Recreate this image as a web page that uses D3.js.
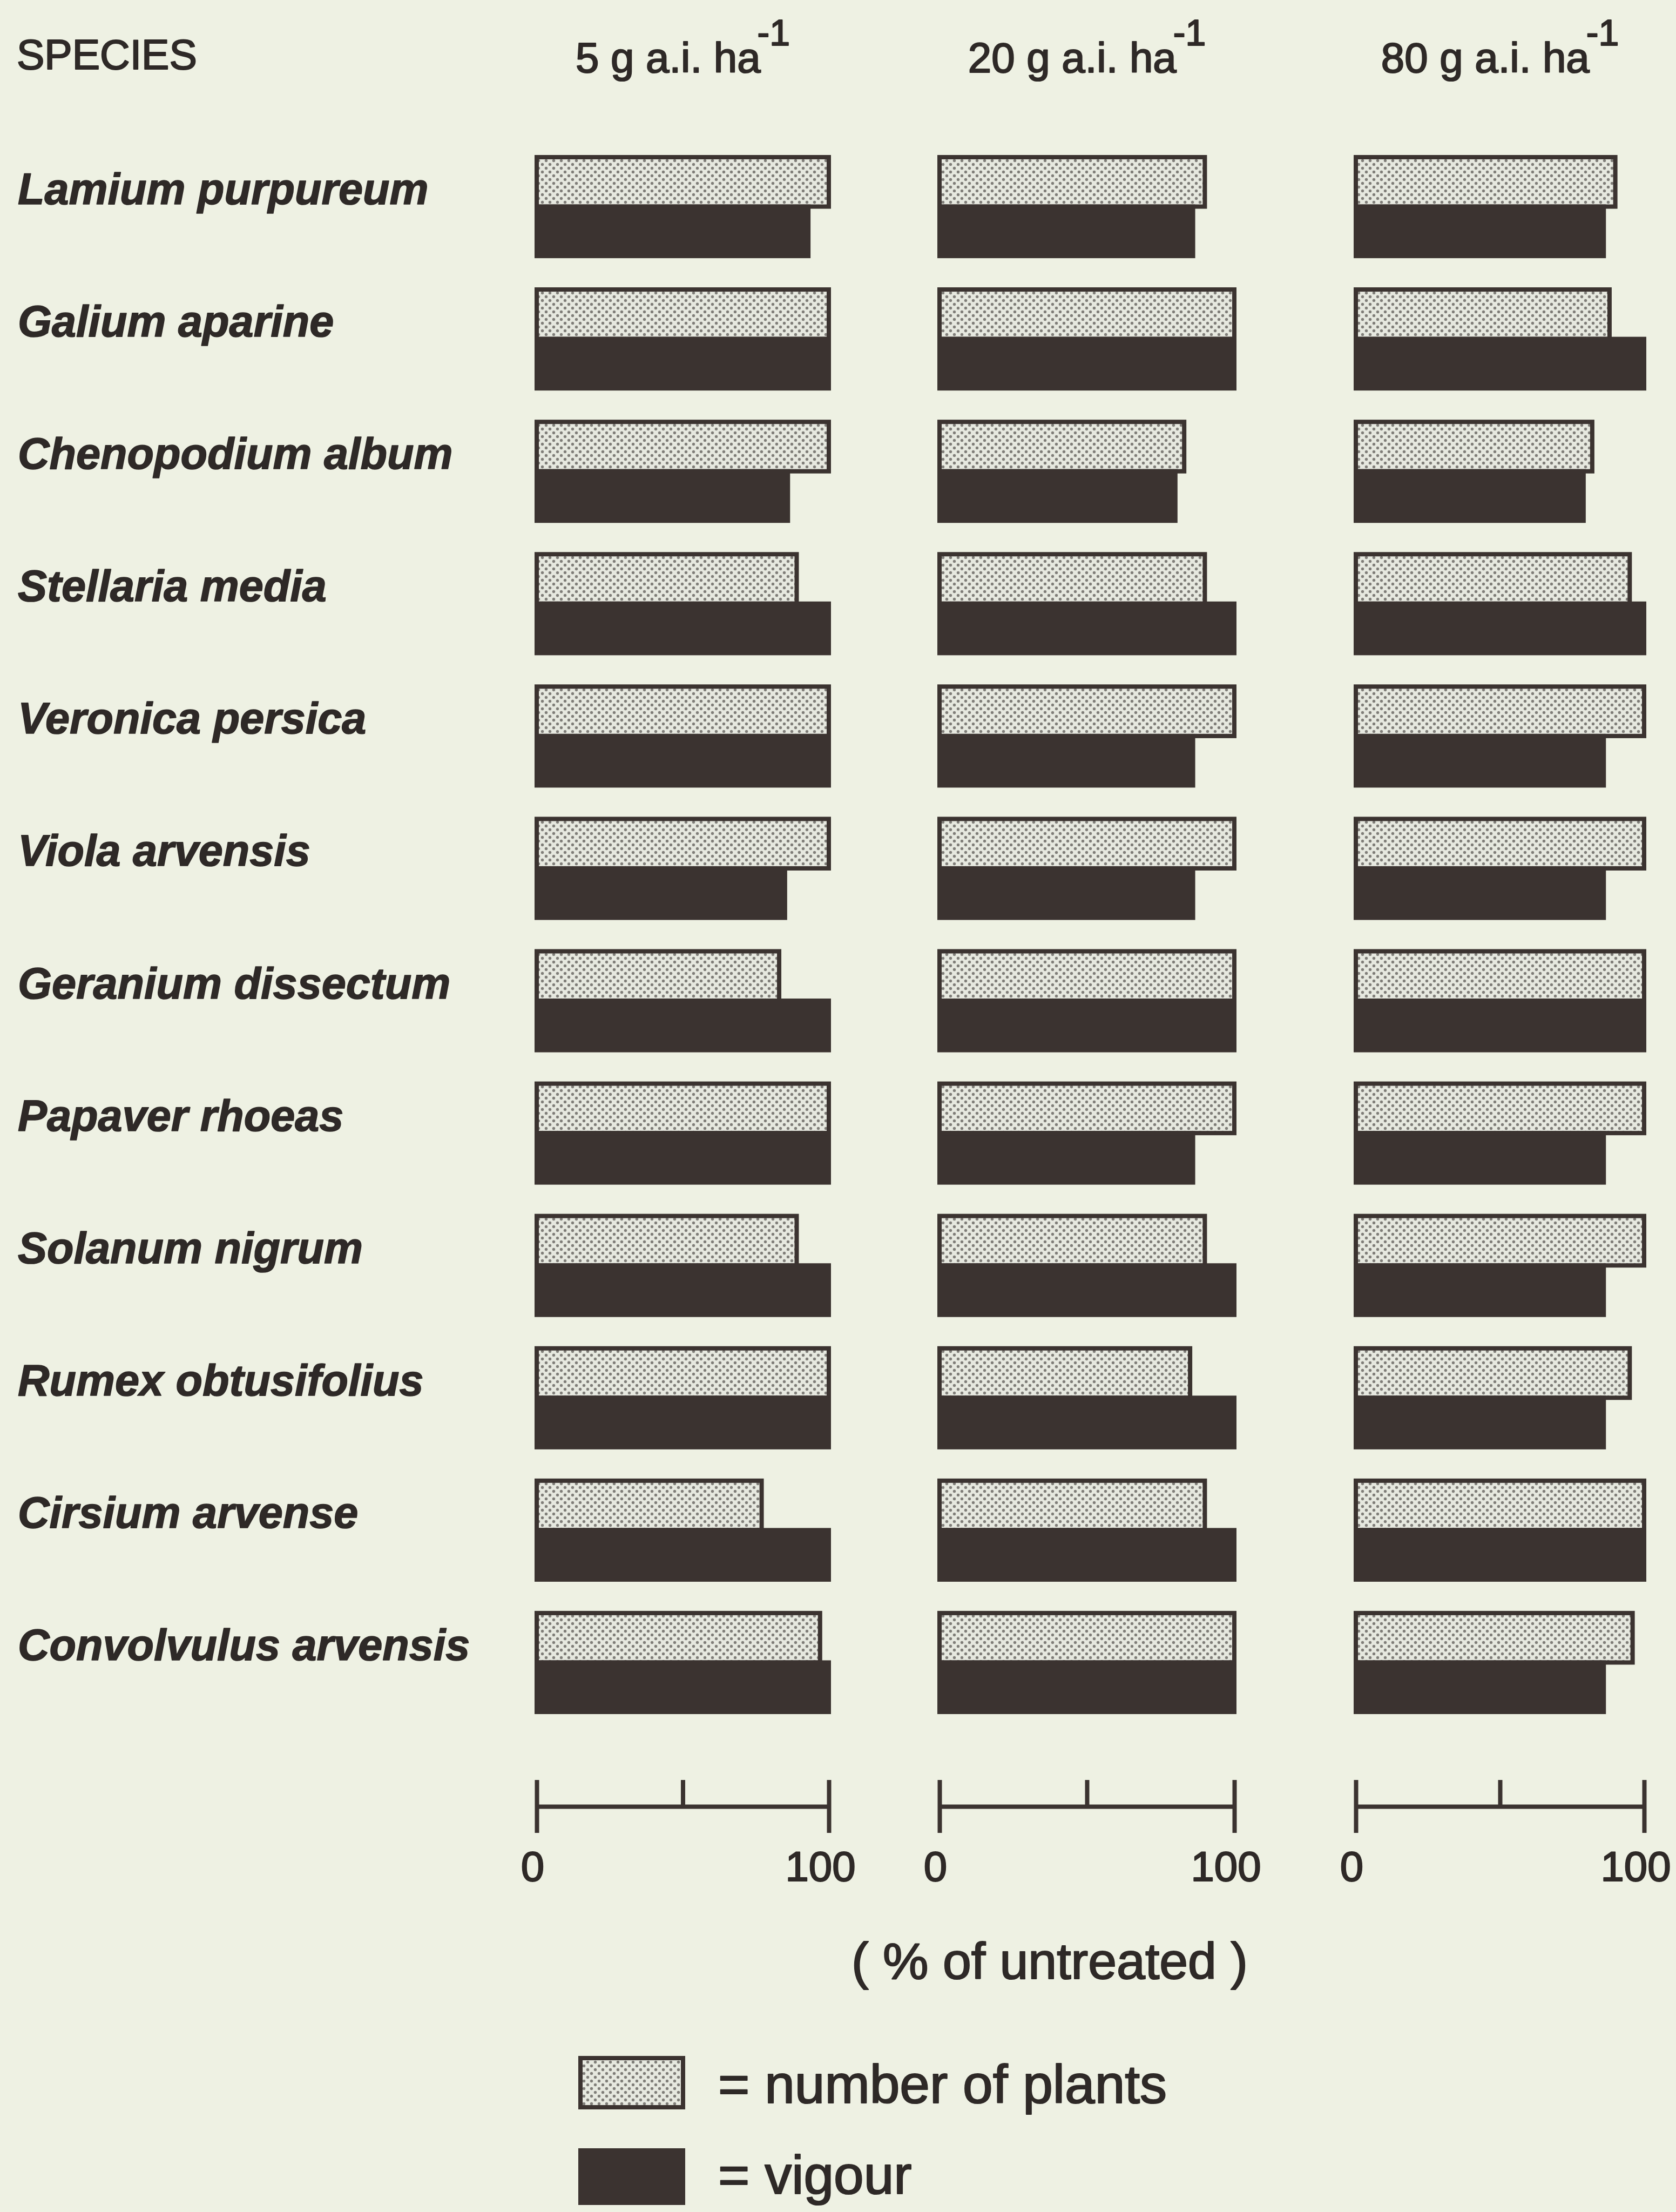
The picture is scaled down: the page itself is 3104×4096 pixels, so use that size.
<!DOCTYPE html>
<html>
<head>
<meta charset="utf-8">
<script src="https://cdn.jsdelivr.net/npm/d3@7"></script>
<style>
  html, body { margin: 0; padding: 0; background: #eef1e3; }
  svg { display: block; }
</style>
</head>
<body>
<script>
// ---------------- DATA ----------------
const species = [
  "Lamium purpureum", "Galium aparine", "Chenopodium album", "Stellaria media",
  "Veronica persica", "Viola arvensis", "Geranium dissectum", "Papaver rhoeas",
  "Solanum nigrum", "Rumex obtusifolius", "Cirsium arvense", "Convolvulus arvensis"
];
const doseLabels = ["5 g a.i. ha", "20 g a.i. ha", "80 g a.i. ha"];
const doseUnitSup = "-1";
const seriesKeys = ["plants", "vigour"];
const legendLabels = ["= number of plants", "= vigour"];

// number of plants (% of untreated)
const plants5  = [100, 100, 100, 89, 100, 100, 83, 100, 89, 100, 77, 97];
const plants20 = [90, 100, 83, 90, 100, 100, 100, 100, 90, 85, 90, 100];
const plants80 = [90, 88, 82, 95, 100, 100, 100, 100, 100, 95, 100, 96];
// vigour (% of untreated)
const vigour5  = [93, 100, 86, 100, 100, 85, 100, 100, 100, 100, 100, 100];
const vigour20 = [86, 100, 80, 100, 86, 86, 100, 86, 100, 100, 100, 100];
const vigour80 = [86, 100, 79, 100, 86, 86, 100, 86, 86, 86, 100, 86];

const axisTicks = [0, 50, 100];
const axisTickLabels = [0, 100];
const axisTitle = "( % of untreated )";
const speciesHeader = "SPECIES";

// ---------------- STYLE / LAYOUT ----------------
const W = 3104, H = 4096;
const BG = "#eef1e3";
const DARK = "#3b3330";
const INK = "#2e2927";
const FONT = "'Liberation Sans', Arial, Helvetica, sans-serif";
const SW = 8;
const TXT_STROKE = 2.2;

const panelData = [
  { plants: plants5,  vigour: vigour5,  range: [994, 1535] },
  { plants: plants20, vigour: vigour20, range: [1740, 2286] },
  { plants: plants80, vigour: vigour80, range: [2511, 3045] }
];

const svg = d3.select("body").append("svg")
  .attr("width", W).attr("height", H)
  .attr("viewBox", `0 0 ${W} ${H}`);

svg.append("rect").attr("width", W).attr("height", H).attr("fill", BG);

// stipple pattern
const defs = svg.append("defs");
const pat = defs.append("pattern")
  .attr("id", "dots")
  .attr("patternUnits", "userSpaceOnUse")
  .attr("width", 14).attr("height", 14);
pat.append("rect").attr("width", 14).attr("height", 14).attr("fill", "#e6e8df");
pat.append("circle").attr("cx", 3.5).attr("cy", 3.5).attr("r", 2.7).attr("fill", "#7f7d78");
pat.append("circle").attr("cx", 10.5).attr("cy", 10.5).attr("r", 2.7).attr("fill", "#7f7d78");

function ink(sel, sw) {
  return sel.attr("fill", INK)
    .attr("stroke", INK)
    .attr("stroke-width", sw)
    .attr("stroke-linejoin", "round");
}

// row scale
const y = d3.scaleBand()
  .domain(species)
  .range([291, 3170])
  .paddingInner(0.253)
  .paddingOuter(0)
  .align(0);
const ySub = d3.scaleBand()
  .domain(seriesKeys)
  .range([0, y.bandwidth()]);

// header
ink(svg.append("text")
  .attr("x", 31).attr("y", 128)
  .attr("font-family", FONT).attr("font-size", 77), TXT_STROKE)
  .text(speciesHeader);

// species labels
ink(svg.append("g").selectAll("text")
  .data(species)
  .join("text")
  .attr("x", 33)
  .attr("y", d => y(d) + 87)
  .attr("font-family", FONT)
  .attr("font-size", 81)
  .attr("font-weight", "bold")
  .attr("font-style", "italic"), 1.6)
  .text(d => d);

// panels
panelData.forEach((p, pi) => {
  const x = d3.scaleLinear().domain([0, 100]).range(p.range);
  const g = svg.append("g");

  // dose header
  const center = (p.range[0] + p.range[1]) / 2;
  const ht = ink(g.append("text")
    .attr("x", center).attr("y", 134)
    .attr("text-anchor", "middle")
    .attr("font-family", FONT).attr("font-size", 78), TXT_STROKE);
  ht.append("tspan").text(doseLabels[pi]);
  ht.append("tspan").attr("dx", -6).attr("dy", -50).attr("font-size", 68).text(doseUnitSup);

  // number of plants bars
  g.append("g").selectAll("rect")
    .data(species.map((s, i) => ({ s, v: p.plants[i] })))
    .join("rect")
    .attr("x", x(0))
    .attr("y", d => y(d.s) + ySub("plants"))
    .attr("width", d => x(d.v) - x(0))
    .attr("height", ySub.bandwidth())
    .attr("fill", "url(#dots)")
    .attr("stroke", DARK)
    .attr("stroke-width", SW);

  // vigour bars
  g.append("g").selectAll("rect")
    .data(species.map((s, i) => ({ s, v: p.vigour[i] })))
    .join("rect")
    .attr("x", x(0))
    .attr("y", d => y(d.s) + ySub("vigour"))
    .attr("width", d => x(d.v) - x(0))
    .attr("height", ySub.bandwidth())
    .attr("fill", DARK)
    .attr("stroke", DARK)
    .attr("stroke-width", SW);

  // axis
  const axis = d3.axisBottom(x)
    .tickValues(axisTicks)
    .tickSizeInner(49)
    .tickSizeOuter(0)
    .tickFormat(d => axisTickLabels.includes(d) ? String(d) : "");
  const ag = g.append("g").attr("transform", "translate(0,3345)").call(axis);
  ag.select(".domain").attr("stroke", DARK).attr("stroke-width", SW);
  ag.selectAll(".tick line")
    .attr("stroke", DARK).attr("stroke-width", SW)
    .attr("y1", -49)
    .attr("y2", d => d === 50 ? 0 : 49);
  ink(ag.selectAll(".tick text")
    .attr("y", 138).attr("dy", 0)
    .attr("dx", d => d === 100 ? -16 : -8)
    .attr("font-family", FONT).attr("font-size", 78), TXT_STROKE);
});

// axis title
ink(svg.append("text")
  .attr("x", 1944).attr("y", 3664)
  .attr("text-anchor", "middle")
  .attr("font-family", FONT).attr("font-size", 95), TXT_STROKE)
  .text(axisTitle);

// legend
const legend = svg.append("g");
const legFill = ["url(#dots)", DARK];
const legY = [3811, 3982];
const legH = [91, 97];
const legTextY = [3894, 4062];
seriesKeys.forEach((k, i) => {
  legend.append("rect")
    .attr("x", 1075).attr("y", legY[i])
    .attr("width", 190).attr("height", legH[i])
    .attr("fill", legFill[i])
    .attr("stroke", DARK).attr("stroke-width", SW);
  ink(legend.append("text")
    .attr("x", 1330).attr("y", legTextY[i])
    .attr("font-family", FONT).attr("font-size", 100), TXT_STROKE)
    .text(legendLabels[i]);
});
</script>
</body>
</html>
